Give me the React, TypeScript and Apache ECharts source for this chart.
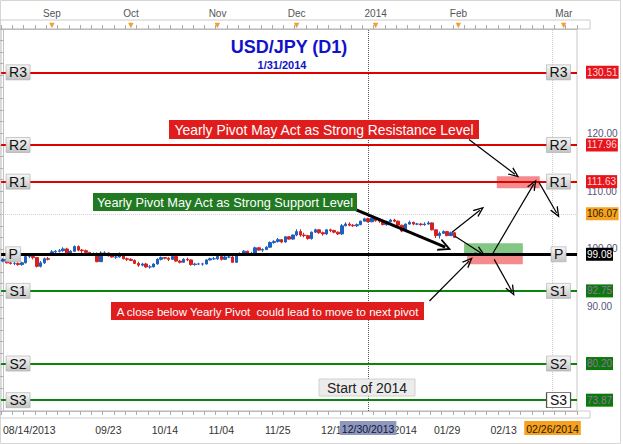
import React, { useEffect, useRef } from 'react';
import * as echarts from 'echarts';

// ---------- axis definition ----------
const tradingStart = '2013-08-14';
const tradingEnd = '2014-01-31';
const holidays = ['2013-12-25', '2014-01-01'];
const futureEnd = '2014-03-04';

const bottomTickDates = ['08/14/2013', '09/23/2013', '10/14/2013', '11/04/2013', '11/25/2013', '12/16/2013', '01/08/2014', '01/29/2014', '02/13/2014'];
const bottomTickLabels = ['08/14/2013', '09/23', '10/14', '11/04', '11/25', '12/16', '01/08/2014', '01/29', '02/13'];
const topTickDates = ['09/02/2013', '10/01/2013', '11/01/2013', '12/02/2013', '01/02/2014', '02/01/2014', '03/01/2014'];
const topTickLabels = ['Sep', 'Oct', 'Nov', 'Dec', '2014', 'Feb', 'Mar'];
const priceTickLabels = [90, 100, 110, 120];

// ---------- candles (USD/JPY daily) ----------
const candleOpen = [
  97.9, 98.2, 97.6, 97.5, 97.5, 97.3, 97.6, 98.7, 98.7, 98.5, 97.0, 97.6, 98.3,
  99.1, 99.5, 99.6, 99.7, 100.0, 99.1, 99.6, 100.4, 99.8, 99.7, 99.4, 99.0, 99.2, 97.8, 99.3, 99.3, 98.8, 98.6, 98.6, 99.2, 98.3,
  98.2, 98.0, 97.5, 97.2, 97.4, 96.9, 96.9, 97.4, 98.2, 98.5, 98.4, 98.2, 98.7, 97.9, 97.7, 98.2, 98.1, 97.3, 97.4, 97.4, 97.4, 98.1, 98.3,
  98.3, 98.7, 98.2, 98.6, 98.6, 97.7, 99.0, 99.2, 99.6, 99.2, 99.2, 100.2, 99.8, 99.9, 100.3, 101.1, 101.3, 101.6, 101.2, 102.1, 101.7,
  102.4, 103.0, 102.4, 102.3, 101.8, 102.9, 103.3, 102.8, 102.6, 103.3, 103.2, 102.9, 102.6, 104.0, 104.3, 104.1, 104.0, 104.2, 104.8, 105.2, 104.7,
  105.3, 104.9, 104.8, 104.2, 104.7, 105.0, 104.8, 104.1, 103.1, 104.3, 104.6, 104.3, 104.3, 104.2, 104.3, 104.5, 103.3, 102.3, 102.7, 103.0, 102.3, 102.8,
];
const candleClose = [
  98.2, 97.6, 97.5, 97.5, 97.3, 97.6, 98.7, 98.7, 98.5, 97.0, 97.6, 98.3, 98.2,
  99.5, 99.6, 99.7, 100.0, 99.1, 99.6, 100.4, 99.8, 99.7, 99.4, 99.0, 99.2, 97.8, 99.3, 99.3, 98.8, 98.6, 98.6, 99.2, 98.3, 98.2,
  98.0, 97.5, 97.2, 97.4, 96.9, 96.9, 97.4, 98.2, 98.5, 98.4, 98.2, 98.7, 97.9, 97.7, 98.2, 98.1, 97.3, 97.4, 97.4, 97.4, 98.1, 98.3, 98.3,
  98.7, 98.2, 98.6, 98.6, 97.7, 99.0, 99.2, 99.6, 99.2, 99.2, 100.2, 99.8, 99.9, 100.3, 101.1, 101.3, 101.6, 101.2, 102.1, 101.7, 102.4,
  103.0, 102.4, 102.3, 101.8, 102.9, 103.3, 102.8, 102.6, 103.3, 103.2, 102.9, 102.6, 104.0, 104.3, 104.1, 104.0, 104.2, 104.8, 105.2, 104.7, 105.3,
  104.9, 104.8, 104.2, 104.7, 105.0, 104.8, 104.1, 103.1, 104.3, 104.6, 104.3, 104.3, 104.2, 104.3, 104.5, 103.3, 102.3, 102.7, 103.0, 102.3, 102.8, 102.0,
];
const candleLow = [
  97.7, 97.5, 97.3, 97.2, 97.1, 97.1, 97.5, 98.4, 98.2, 96.8, 96.8, 97.4, 98.0,
  98.9, 99.3, 99.4, 99.5, 98.9, 99.0, 99.5, 99.6, 99.3, 99.2, 98.8, 98.9, 97.7, 97.8, 99.0, 98.7, 98.5, 98.3, 98.5, 98.2, 97.9,
  97.9, 97.4, 96.9, 97.0, 96.7, 96.6, 96.8, 97.3, 98.0, 98.2, 97.9, 98.1, 97.8, 97.5, 97.6, 97.9, 97.1, 97.1, 97.2, 97.1, 97.3, 98.0, 98.1,
  98.1, 98.0, 98.1, 98.4, 97.6, 97.6, 98.8, 99.0, 99.0, 98.9, 99.1, 99.7, 99.5, 99.8, 100.2, 100.9, 101.1, 101.0, 101.1, 101.6, 101.6,
  102.2, 102.1, 102.0, 101.6, 101.6, 102.8, 102.6, 102.3, 102.4, 102.9, 102.7, 102.4, 102.4, 103.9, 103.9, 103.8, 103.8, 104.1, 104.7, 104.6, 104.6,
  104.7, 104.5, 104.1, 104.0, 104.6, 104.6, 103.9, 102.9, 102.9, 104.2, 104.1, 104.1, 104.0, 104.0, 104.2, 103.2, 101.9, 101.8, 102.6, 102.2, 102.2, 101.9,
];
const candleHigh = [
  98.4, 98.4, 97.8, 97.8, 97.7, 97.8, 98.9, 99.0, 99.0, 98.6, 97.9, 98.5, 98.6,
  99.8, 99.8, 100.0, 100.3, 100.2, 99.8, 100.6, 100.6, 100.0, 99.9, 99.5, 99.4, 99.4, 99.6, 99.6, 99.4, 99.0, 98.9, 99.4, 99.3, 98.5,
  98.4, 98.2, 97.8, 97.6, 97.6, 97.2, 97.5, 98.4, 98.7, 98.6, 98.6, 99.0, 98.8, 98.1, 98.4, 98.5, 98.2, 97.6, 97.6, 97.6, 98.2, 98.5, 98.6,
  99.0, 98.8, 98.8, 98.9, 99.0, 99.2, 99.4, 99.8, 99.7, 99.5, 100.4, 100.3, 100.1, 100.5, 101.3, 101.5, 101.9, 101.7, 102.2, 102.2, 102.5,
  103.4, 103.4, 102.8, 102.4, 103.0, 103.5, 103.4, 103.0, 103.4, 103.5, 103.3, 103.0, 104.3, 104.6, 104.6, 104.3, 104.4, 104.9, 105.4, 105.4, 105.4,
  105.4, 105.2, 105.0, 104.9, 105.2, 105.2, 104.9, 104.2, 104.4, 104.9, 104.7, 104.5, 104.5, 104.6, 104.8, 104.6, 103.4, 103.0, 103.2, 103.1, 103.0, 102.9,
];

// ---------- yearly pivots ----------
const pivotNames = ['R3', 'R2', 'R1', 'P', 'S1', 'S2', 'S3'];
const pivotValues = [130.51, 117.96, 111.63, 99.08, 92.75, 80.2, 73.87];
const pivotKinds = ['r', 'r', 'r', 'p', 's', 's', 's'];

// crosshair / markers
const markerDate = '12/30/2013';
const crossDate = '02/26/2014';
const crossPrice = 106.07;

// ---------- annotation geometry (in bar-index / price space) ----------
const arrowsFrom = [[123.8, 118.9], [93.7, 106.8], [119.3, 102.9], [120.1, 102.2], [130.2, 99.3], [142.4, 111.5], [130.5, 98.2], [113.3, 91.0]];
const arrowsTo = [[136.0, 112.9], [117.5, 100.3], [126.7, 106.7], [127.0, 99.3], [141.0, 111.2], [147.1, 106.2], [135.2, 92.7], [123.8, 97.9]];
const arrowWidths = [1.2, 3, 1.2, 1.2, 1.2, 1.2, 1.2, 1.2];
const zoneFrom = [[131.2, 112.55], [122.5, 100.98], [123.3, 99.08]];
const zoneTo = [[142.6, 110.48], [138.1, 99.08], [138.1, 97.35]];
const zoneColors = ['#f38a8c', '#84c684', '#f38a8c'];

function buildCategories(): string[] {
  const out: string[] = [];
  const fmt = (d: Date) =>
    `${String(d.getUTCMonth() + 1).padStart(2, '0')}/${String(d.getUTCDate()).padStart(2, '0')}/${d.getUTCFullYear()}`;
  const iso = (d: Date) => d.toISOString().slice(0, 10);
  const d = new Date(tradingStart + 'T00:00:00Z');
  const end = new Date(tradingEnd + 'T00:00:00Z');
  while (d <= end) {
    const wd = d.getUTCDay();
    if (wd !== 0 && wd !== 6 && !holidays.includes(iso(d))) out.push(fmt(d));
    d.setUTCDate(d.getUTCDate() + 1);
  }
  const fe = new Date(futureEnd + 'T00:00:00Z');
  while (d <= fe) {
    out.push(fmt(d));
    d.setUTCDate(d.getUTCDate() + 1);
  }
  return out;
}

const FONT = '"Liberation Sans", Arial, sans-serif';
const arrowHead = 'path://M5,0L10,11L8.4,11L5,3.4L1.6,11L0,11Z';

export default function App() {
  const ref = useRef<HTMLDivElement>(null);

  useEffect(() => {
    if (!ref.current) return;
    const chart = echarts.init(ref.current, null, { renderer: 'svg' });
    const categories = buildCategories();
    const candleData = candleOpen.map((o, i) => [o, candleClose[i], candleLow[i], candleHigh[i]]);

    const kindStyle: any = {
      r: { line: '#e00000', width: 2, bg: '#e8141c', text: '#ffd8d8' },
      p: { line: '#000000', width: 3, bg: '#000000', text: '#ffffff' },
      s: { line: '#0a840a', width: 2, bg: '#0a7a0a', text: '#9a70a8' },
    };

    const boxGrad = new echarts.graphic.LinearGradient(0, 0, 0, 1, [
      { offset: 0, color: '#f7f7f7' },
      { offset: 1, color: '#c4c4c4' },
    ]);

    const pivotLines = pivotValues.map((v, i) => {
      const st = kindStyle[pivotKinds[i]];
      return {
        yAxis: v,
        lineStyle: { color: st.line, width: st.width, type: 'solid' },
        label: {
          show: true,
          position: 'end',
          distance: 9,
          formatter: v.toFixed(2),
          backgroundColor: st.bg,
          color: st.text,
          fontSize: 10,
          fontFamily: FONT,
          padding: [2, 1, 1, 1],
        },
      };
    });

    const boxPoints: any[] = [];
    pivotValues.forEach((v, i) => {
      const w = pivotNames[i].length === 1 ? 15 : 24;
      const leftX = pivotNames[i].length === 1 ? 2.7 : 4;
      const rightX = 147.6;
      [leftX, rightX].forEach((x, side) => {
        const selected = side === 1 && pivotNames[i] === 'S3';
        boxPoints.push({
          coord: [x, v],
          symbol: 'rect',
          symbolSize: [w, 15],
          itemStyle: {
            color: selected ? '#ffffff' : boxGrad,
            borderColor: selected ? '#555' : '#a8a8a8',
            borderWidth: selected ? 1 : 0.6,
          },
          label: {
            show: true,
            position: 'inside',
            formatter: pivotNames[i],
            color: '#111',
            fontSize: 14,
            fontFamily: FONT,
          },
        });
      });
    });

    const arrowData = arrowsFrom.map((f, i) => [
      { coord: f, symbol: 'none', lineStyle: { color: '#000', width: arrowWidths[i], type: 'solid' } },
      {
        coord: arrowsTo[i],
        symbol: arrowHead,
        symbolSize: arrowWidths[i] > 2 ? [13, 13] : [9, 11],
      },
    ]);

    const zoneData = zoneFrom.map((f, i) => [
      { coord: f, itemStyle: { color: zoneColors[i], opacity: 1 } },
      { coord: zoneTo[i] },
    ]);

    const option: any = {
      animation: false,
      backgroundColor: '#ffffff',
      textStyle: { fontFamily: FONT },
      grid: { left: 0, right: 46, top: 29, bottom: 33, show: true, borderColor: '#c8c8c8', borderWidth: 1 },
      xAxis: [
        {
          type: 'category',
          data: categories,
          position: 'bottom',
          boundaryGap: true,
          axisLine: { show: true, lineStyle: { color: '#bbbbbb' } },
          axisTick: { show: true, interval: (i: number) => i % 3 === 0, length: 4, lineStyle: { color: '#aaaaaa' } },
          axisLabel: {
            interval: (_i: number, v: string) => bottomTickDates.includes(v),
            formatter: (v: string) => bottomTickLabels[bottomTickDates.indexOf(v)] ?? '',
            color: '#333',
            fontSize: 10.5,
            margin: 13,
            alignMinLabel: 'left',
            fontFamily: FONT,
          },
          splitLine: { show: false },
        },
        {
          type: 'category',
          data: categories,
          position: 'top',
          boundaryGap: true,
          axisLine: { show: true, lineStyle: { color: '#bbbbbb' } },
          axisTick: { show: true, interval: (i: number) => i % 3 === 0, length: 4, lineStyle: { color: '#aaaaaa' } },
          axisLabel: {
            interval: (_i: number, v: string) => topTickDates.includes(v),
            formatter: (v: string) => `{m|${topTickLabels[topTickDates.indexOf(v)]}}\n{t|▼}`,
            margin: 0,
            rich: {
              m: { fontSize: 10, color: '#555', lineHeight: 14, fontFamily: FONT },
              t: { fontSize: 9, color: '#f0a030', lineHeight: 9 },
            },
          },
          splitLine: { show: false },
        },
        { type: 'value', min: -0.5, max: categories.length - 0.5, show: false, gridIndex: 0 },
      ],
      yAxis: [
        {
          type: 'value',
          position: 'right',
          min: 72,
          max: 138,
          interval: 2,
          offset: 7,
          axisLine: { show: true, lineStyle: { color: '#c0c0c0' } },
          axisTick: { show: true, inside: true, length: 5, lineStyle: { color: '#b0b0b0' } },
          axisLabel: {
            formatter: (v: number) => (priceTickLabels.includes(v) ? v.toFixed(2) : ''),
            color: '#55557a',
            fontSize: 10,
            margin: 3,
            fontFamily: FONT,
          },
          splitLine: { show: false },
        },
      ],
      series: [
        {
          type: 'line',
          xAxisIndex: 2,
          yAxisIndex: 0,
          data: [],
          z: 1,
          silent: true,
          markArea: { silent: true, data: zoneData },
        },
        {
          type: 'candlestick',
          xAxisIndex: 0,
          yAxisIndex: 0,
          data: candleData,
          barWidth: 3,
          z: 3,
          silent: true,
          itemStyle: {
            color: '#1f5fc0',
            color0: '#d42020',
            borderColor: '#1f5fc0',
            borderColor0: '#d42020',
            borderWidth: 1,
          },
          markLine: {
            silent: true,
            symbol: 'none',
            data: [
              {
                xAxis: markerDate,
                lineStyle: { color: '#555', type: 'dotted', width: 1 },
                label: {
                  show: true,
                  position: 'start',
                  distance: 10,
                  formatter: markerDate,
                  backgroundColor: '#8e98bd',
                  color: '#15153a',
                  fontSize: 10.5,
                  fontFamily: FONT,
                  padding: [2, 2, 1, 2],
                },
              },
              {
                xAxis: crossDate,
                lineStyle: { color: '#cfcfcf', type: 'dotted', width: 1 },
                label: {
                  show: true,
                  position: 'start',
                  distance: 10,
                  formatter: crossDate,
                  backgroundColor: '#f6a21e',
                  color: '#2a1a00',
                  fontSize: 10.5,
                  fontFamily: FONT,
                  padding: [2, 2, 1, 2],
                },
              },
              {
                yAxis: crossPrice,
                lineStyle: { color: '#d0d0d0', type: 'dotted', width: 1 },
                label: {
                  show: true,
                  position: 'end',
                  distance: 9,
                  formatter: crossPrice.toFixed(2),
                  backgroundColor: '#f6a21e',
                  color: '#2a1a00',
                  fontSize: 10,
                  fontFamily: FONT,
                  padding: [2, 1, 1, 1],
                },
              },
            ],
          },
        },
        {
          type: 'line',
          xAxisIndex: 2,
          yAxisIndex: 0,
          data: [],
          z: 4,
          silent: true,
          markLine: { silent: true, symbol: 'none', data: pivotLines },
        },
        {
          type: 'line',
          xAxisIndex: 2,
          yAxisIndex: 0,
          data: [],
          z: 5,
          silent: true,
          markPoint: { silent: true, data: boxPoints },
        },
        {
          type: 'line',
          xAxisIndex: 2,
          yAxisIndex: 0,
          data: [],
          z: 6,
          silent: true,
          markLine: {
            silent: true,
            symbol: ['none', arrowHead],
            label: { show: false },
            data: arrowData,
          },
        },
      ],
      graphic: [
        { type: 'rect', shape: { x: 0.5, y: 0.5, width: 620, height: 443 }, style: { fill: 'none', stroke: '#d6d6d6', lineWidth: 1 }, silent: true, z: 0 },
        { type: 'rect', shape: { x: 0, y: 20, width: 590, height: 9 }, style: { fill: 'none', stroke: '#cccccc', lineWidth: 1 }, silent: true, z: 0 },
        { type: 'rect', shape: { x: 0, y: 411, width: 590, height: 7 }, style: { fill: 'none', stroke: '#cccccc', lineWidth: 1 }, silent: true, z: 0 },
        {
          type: 'text', x: 289, y: 47, z: 20,
          style: { text: 'USD/JPY (D1)', fill: '#1212c8', font: `bold 18px ${FONT}`, align: 'center', verticalAlign: 'middle' },
        },
        {
          type: 'text', x: 282, y: 65, z: 20,
          style: { text: '1/31/2014', fill: '#1212c8', font: `bold 11px ${FONT}`, align: 'center', verticalAlign: 'middle' },
        },
        { type: 'rect', z: 20, shape: { x: 169, y: 120, width: 310, height: 19 }, style: { fill: '#e01c1c' } },
        {
          type: 'text', x: 324, y: 130, z: 21,
          style: { text: 'Yearly Pivot May Act as Strong Resistance Level', fill: '#ffffff', font: `13.9px ${FONT}`, align: 'center', verticalAlign: 'middle' },
        },
        { type: 'rect', z: 20, shape: { x: 93, y: 193, width: 264, height: 18 }, style: { fill: '#217a21' } },
        {
          type: 'text', x: 225, y: 202.5, z: 21,
          style: { text: 'Yearly Pivot May Act as Strong Support Level', fill: '#ffffff', font: `12.75px ${FONT}`, align: 'center', verticalAlign: 'middle' },
        },
        { type: 'rect', z: 20, shape: { x: 111, y: 302, width: 313, height: 18 }, style: { fill: '#e01c1c' } },
        {
          type: 'text', x: 267.5, y: 311.5, z: 21,
          style: { text: 'A close below Yearly Pivot  could lead to move to next pivot', fill: '#ffffff', font: `11.5px ${FONT}`, align: 'center', verticalAlign: 'middle' },
        },
        { type: 'rect', z: 20, shape: { x: 319, y: 379, width: 96, height: 17 }, style: { fill: '#ececec', stroke: '#d0d0d0', lineWidth: 1 } },
        {
          type: 'text', x: 367, y: 388, z: 21,
          style: { text: 'Start of 2014', fill: '#222222', font: `14px ${FONT}`, align: 'center', verticalAlign: 'middle' },
        },
      ],
    };

    chart.setOption(option);
    return () => chart.dispose();
  }, []);

  return (
    <div style={{ position: 'absolute', left: 0, top: 0, width: 623, height: 444, background: '#fff' }}>
      <div ref={ref} style={{ width: 623, height: 444 }} />
    </div>
  );
}
